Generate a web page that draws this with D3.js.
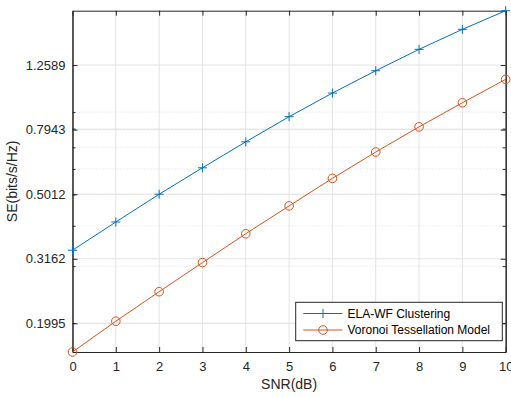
<!DOCTYPE html>
<html lang="en">
<head>
  <meta charset="UTF-8">
  <title>SE vs SNR</title>
  <script src="https://d3js.org/d3.v7.min.js"></script>
  <style>
    body {
      margin: 0;
      padding: 0;
      background-color: #fff;
    }
    svg {
      display: block;
      font-family: "Liberation Sans", Arial, sans-serif;
    }
  </style>
</head>
<body>
  <svg id="canvas"></svg>
  <script>
const width = 511;
const height = 397;

// data
const snr = [0, 1, 2, 3, 4, 5, 6, 7, 8, 9, 10];
const elaWf = [0.336, 0.411, 0.501, 0.605, 0.728, 0.871, 1.031, 1.209, 1.408, 1.624, 1.855];
const voronoi = [0.1626, 0.2025, 0.250, 0.3076, 0.378, 0.461, 0.561, 0.677, 0.810, 0.962, 1.137];
const yTicks = [0.1995, 0.3162, 0.5012, 0.7943, 1.2589];
const yMinor = [0.2, 0.3, 0.4, 0.5, 0.6, 0.7, 0.8, 0.9];
const seriesNames = ["ELA-WF Clustering", "Voronoi Tessellation Model"];

const axisColor = "#262626";
const gridColor = "#e3e3e3";
const blue = "#0072BD";
const orange = "#D95319";

const plot = { left: 72.5, right: 505.7, top: 10.7, bottom: 352 };

const svg = d3.select("#canvas")
  .attr("width", width)
  .attr("height", height);

const x = d3.scaleLinear().domain([0, 10]).range([plot.left, plot.right]);
const y = d3.scaleLog().domain([voronoi[0], elaWf[elaWf.length - 1]]).range([plot.bottom, plot.top]);

// grid
const grid = svg.append("g");
grid.selectAll(".xg").data(snr).enter().append("line")
  .attr("x1", d => x(d)).attr("x2", d => x(d))
  .attr("y1", plot.top).attr("y2", plot.bottom)
  .attr("stroke", gridColor).attr("stroke-width", 1);
grid.selectAll(".ymg").data(yMinor).enter().append("line")
  .attr("x1", plot.left).attr("x2", plot.right)
  .attr("y1", d => y(d)).attr("y2", d => y(d))
  .attr("stroke", "#d6d6d6").attr("stroke-width", 0.8)
  .attr("stroke-dasharray", "1,2");
grid.selectAll(".yg").data(yTicks).enter().append("line")
  .attr("x1", plot.left).attr("x2", plot.right)
  .attr("y1", d => y(d)).attr("y2", d => y(d))
  .attr("stroke", gridColor).attr("stroke-width", 1);

// axes (ticks pointing inward, box on)
const fmt = d => d.toFixed(4);

const xAxis = svg.append("g")
  .attr("transform", `translate(0,${plot.bottom})`)
  .call(d3.axisBottom(x).tickValues(snr).tickSizeInner(-5).tickSizeOuter(0).tickPadding(10));
const xAxisTop = svg.append("g")
  .attr("transform", `translate(0,${plot.top})`)
  .call(d3.axisTop(x).tickValues(snr).tickSizeInner(-5).tickSizeOuter(0).tickFormat(""));
const yAxis = svg.append("g")
  .attr("transform", `translate(${plot.left},0)`)
  .call(d3.axisLeft(y).tickValues(yTicks).tickFormat(fmt).tickSizeInner(-5).tickSizeOuter(0).tickPadding(7));
const yAxisRight = svg.append("g")
  .attr("transform", `translate(${plot.right},0)`)
  .call(d3.axisRight(y).tickValues(yTicks).tickFormat("").tickSizeInner(-5).tickSizeOuter(0));
const yMinorLeft = svg.append("g")
  .attr("transform", `translate(${plot.left},0)`)
  .call(d3.axisLeft(y).tickValues(yMinor).tickFormat("").tickSizeInner(-3).tickSizeOuter(0));
const yMinorRight = svg.append("g")
  .attr("transform", `translate(${plot.right},0)`)
  .call(d3.axisRight(y).tickValues(yMinor).tickFormat("").tickSizeInner(-3).tickSizeOuter(0));

[xAxis, xAxisTop, yAxis, yAxisRight, yMinorLeft, yMinorRight].forEach(g => {
  g.select(".domain").attr("stroke", axisColor).attr("stroke-width", 1);
  g.selectAll(".tick line").attr("stroke", axisColor).attr("stroke-width", 1);
  g.selectAll(".tick text").attr("fill", axisColor).attr("font-size", 13)
    .attr("font-family", "'Liberation Sans', Arial, sans-serif");
});

// axis labels
svg.append("text")
  .attr("x", (plot.left + plot.right) / 2)
  .attr("y", 389)
  .attr("text-anchor", "middle")
  .attr("font-size", 14)
  .attr("fill", axisColor)
  .text("SNR(dB)");

svg.append("text")
  .attr("transform", `translate(17,${(plot.top + plot.bottom) / 2}) rotate(-90)`)
  .attr("text-anchor", "middle")
  .attr("font-size", 14)
  .attr("fill", axisColor)
  .text("SE(bits/s/Hz)");

// lines
const line = d3.line().x((d, i) => x(snr[i])).y(d => y(d));

svg.append("path").datum(elaWf)
  .attr("d", line).attr("fill", "none").attr("stroke", blue).attr("stroke-width", 1);
svg.append("path").datum(voronoi)
  .attr("d", line).attr("fill", "none").attr("stroke", orange).attr("stroke-width", 1);

function plusMarker(g, cx, cy, color) {
  g.append("path")
    .attr("d", `M${cx - 4.5},${cy}H${cx + 4.5}M${cx},${cy - 4.5}V${cy + 4.5}`)
    .attr("stroke", color).attr("stroke-width", 1).attr("fill", "none");
}
function circleMarker(g, cx, cy, color) {
  g.append("circle")
    .attr("cx", cx).attr("cy", cy).attr("r", 4.3)
    .attr("stroke", color).attr("stroke-width", 1).attr("fill", "none");
}

const markers = svg.append("g");
elaWf.forEach((d, i) => plusMarker(markers, x(snr[i]), y(d), blue));
voronoi.forEach((d, i) => circleMarker(markers, x(snr[i]), y(d), orange));

// legend
const legend = svg.append("g");
legend.append("rect")
  .attr("x", 295.7).attr("y", 302.3)
  .attr("width", 206.6).attr("height", 38.4)
  .attr("fill", "#fff").attr("stroke", axisColor).attr("stroke-width", 1);

const legendRows = [
  { name: seriesNames[0], color: blue, marker: plusMarker, cy: 313.5 },
  { name: seriesNames[1], color: orange, marker: circleMarker, cy: 330 }
];
legendRows.forEach(r => {
  legend.append("line")
    .attr("x1", 303.3).attr("x2", 342.3)
    .attr("y1", r.cy).attr("y2", r.cy)
    .attr("stroke", r.color).attr("stroke-width", 1);
  r.marker(legend, 323, r.cy, r.color);
  legend.append("text")
    .attr("x", 347.5).attr("y", r.cy)
    .attr("dy", "0.35em")
    .attr("font-size", 12)
    .attr("fill", "#000")
    .text(r.name);
});
  </script>
</body>
</html>
